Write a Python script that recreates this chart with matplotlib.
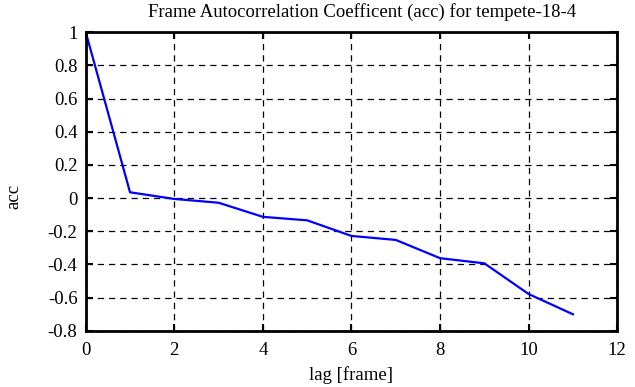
import matplotlib
matplotlib.use('Agg')
import matplotlib.pyplot as plt

lags = [0, 1, 2, 3, 4, 5, 6, 7, 8, 9, 10, 11]
acc = [1.0, 0.035, -0.005, -0.028, -0.113, -0.134, -0.228, -0.252, -0.362, -0.393, -0.578, -0.70]

plt.rcParams['font.family'] = 'Liberation Serif'
plt.rcParams['font.size'] = 13.5

fig = plt.figure(figsize=(6.35, 3.87), dpi=100)
ax = fig.add_axes([0.135, 0.145, 0.837, 0.772])

ax.plot(lags, acc, color='#0000ff', linewidth=1.6)

ax.set_xlim(0, 12)
ax.set_ylim(-0.8, 1)
ax.set_xticks(range(0, 13, 2))
yt = [-0.8, -0.6, -0.4, -0.2, 0, 0.2, 0.4, 0.6, 0.8, 1]
ax.set_yticks(yt)
ax.set_yticklabels(['%g' % v for v in yt])
ax.grid(True, color='black', linestyle=(0, (5, 4)), linewidth=0.9)
ax.tick_params(direction='in', top=True, right=True, length=5, width=1.5)
ax.tick_params(axis='x', pad=8)
ax.tick_params(axis='y', pad=6)
for s in ax.spines.values():
    s.set_linewidth(2)

ax.set_title('Frame Autocorrelation Coefficent (acc) for tempete-18-4',
             fontsize=13.5, pad=11, x=0.52)
ax.set_xlabel('lag [frame]', labelpad=5)
ax.set_ylabel('acc')
ax.yaxis.set_label_coords(-0.12, 0.45)

fig.savefig('out.png', dpi=100)
